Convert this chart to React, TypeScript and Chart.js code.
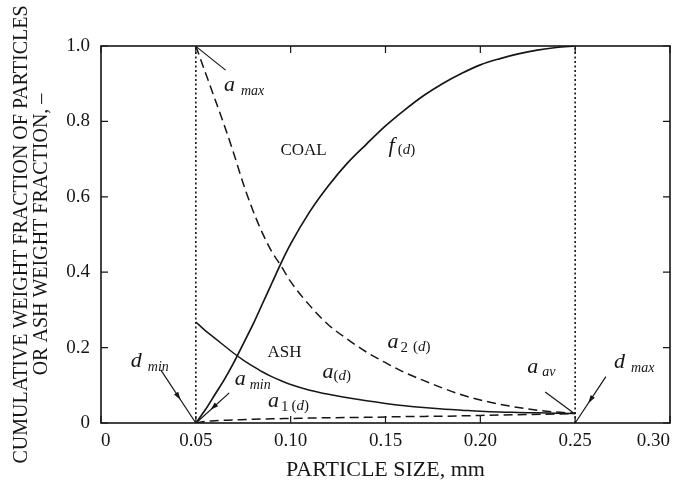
import React, { useEffect, useRef } from 'react';
import { Chart, registerables } from 'chart.js';
Chart.register(...registerables);

// ---------- data ----------
const xTicks = [0, 0.05, 0.1, 0.15, 0.2, 0.25, 0.3];
const xTickLabels = ['0', '0.05', '0.10', '0.15', '0.20', '0.25', '0.30'];
const yTicks = [0, 0.2, 0.4, 0.6, 0.8, 1.0];
const yTickLabels = ['0', '0.2', '0.4', '0.6', '0.8', '1.0'];

const dMin = 0.05;
const dMax = 0.25;

const sizeGrid = [0.05, 0.055, 0.06, 0.065, 0.07, 0.075, 0.08, 0.085, 0.09, 0.095, 0.1, 0.11, 0.12, 0.13, 0.14, 0.15, 0.16, 0.17, 0.18, 0.19, 0.2, 0.21, 0.22, 0.23, 0.24, 0.25];
// coal cumulative weight fraction f(d)
const coalF = [0, 0.035, 0.075, 0.115, 0.16, 0.21, 0.26, 0.315, 0.37, 0.425, 0.475, 0.56, 0.63, 0.69, 0.74, 0.788, 0.83, 0.868, 0.9, 0.927, 0.95, 0.966, 0.979, 0.989, 0.996, 1.0];
// ash weight fraction a(d)
const ashA = [0.268, 0.245, 0.225, 0.205, 0.185, 0.167, 0.151, 0.136, 0.123, 0.112, 0.102, 0.087, 0.076, 0.067, 0.059, 0.052, 0.046, 0.041, 0.037, 0.034, 0.031, 0.029, 0.028, 0.027, 0.026, 0.025];
// a2(d)
const ashA2 = [1.0, 0.93, 0.86, 0.79, 0.715, 0.635, 0.565, 0.505, 0.455, 0.416, 0.375, 0.312, 0.26, 0.222, 0.188, 0.16, 0.134, 0.113, 0.093, 0.075, 0.061, 0.05, 0.041, 0.034, 0.029, 0.026];
// a1(d)
const a1X = [0.05, 0.055, 0.06, 0.07, 0.08, 0.09, 0.1, 0.12, 0.14, 0.16, 0.18, 0.2, 0.22, 0.24, 0.25];
const ashA1 = [0, 0.004, 0.006, 0.008, 0.01, 0.011, 0.012, 0.014, 0.015, 0.017, 0.018, 0.02, 0.022, 0.024, 0.025];

// text annotations: [text, fontSize, italic, dy, gapBefore]
type Seg = [string, number, boolean, number, number];
const annotations: { x: number; y: number; align?: 'left' | 'center'; segs: Seg[] }[] = [
  { x: 0.0648, y: 0.881, segs: [['a', 22, true, 0, 0], ['max', 14, true, 4, 6]] },
  { x: 0.1068, y: 0.712, align: 'center', segs: [['COAL', 17, false, 0, 0]] },
  { x: 0.1516, y: 0.719, segs: [['f', 22, true, 0, 0], ['(', 15, false, 2, 3], ['d', 15, true, 2, 0], [')', 15, false, 2, 0]] },
  { x: 0.0967, y: 0.176, align: 'center', segs: [['ASH', 17, false, 0, 0]] },
  { x: 0.1168, y: 0.119, segs: [['a', 22, true, 0, 0], ['(', 15, false, 2, 0], ['d', 15, true, 2, 0], [')', 15, false, 2, 0]] },
  { x: 0.151, y: 0.199, segs: [['a', 22, true, 0, 0], ['2', 15, false, 4, 2], ['(', 15, false, 3, 5], ['d', 15, true, 3, 0], [')', 15, false, 3, 0]] },
  { x: 0.0881, y: 0.042, segs: [['a', 22, true, 0, 0], ['1', 15, false, 4, 2], ['(', 15, false, 3, 3], ['d', 15, true, 3, 0], [')', 15, false, 3, 0]] },
  { x: 0.0705, y: 0.101, segs: [['a', 22, true, 0, 0], ['min', 14, true, 4, 4]] },
  { x: 0.0157, y: 0.149, segs: [['d', 22, true, 0, 0], ['min', 14, true, 4, 6]] },
  { x: 0.2247, y: 0.133, segs: [['a', 22, true, 0, 0], ['av', 14, true, 3, 4]] },
  { x: 0.2705, y: 0.146, segs: [['d', 22, true, 0, 0], ['max', 14, true, 4, 6]] },
];

const leaders: { from: [number, number]; to: [number, number]; head: boolean }[] = [
  { from: [0.0657, 0.936], to: [0.0505, 0.997], head: false },
  { from: [0.2342, 0.082], to: [0.249, 0.027], head: false },
  { from: [0.0315, 0.141], to: [0.05, 0.0], head: true },
  { from: [0.0676, 0.08], to: [0.051, 0.004], head: true },
  { from: [0.2662, 0.123], to: [0.25, 0.0], head: true },
];

const INK = '#161616';
const SERIF = '"Liberation Serif", "DejaVu Serif", serif';

const decorPlugin = {
  id: 'decor',
  afterDatasetsDraw(chart: any) {
    const { ctx, chartArea: a, scales } = chart;
    const xs = scales.x;
    const ys = scales.y;
    ctx.save();
    ctx.strokeStyle = INK;
    ctx.fillStyle = INK;
    // frame
    ctx.lineWidth = 1.6;
    ctx.strokeRect(a.left, a.top, a.right - a.left, a.bottom - a.top);
    // inward ticks
    ctx.lineWidth = 1.2;
    const tl = 7;
    ctx.beginPath();
    xTicks.forEach((v) => {
      const px = xs.getPixelForValue(v);
      ctx.moveTo(px, a.bottom);
      ctx.lineTo(px, a.bottom - tl);
      ctx.moveTo(px, a.top);
      ctx.lineTo(px, a.top + tl);
    });
    yTicks.forEach((v) => {
      const py = ys.getPixelForValue(v);
      ctx.moveTo(a.left, py);
      ctx.lineTo(a.left + tl, py);
      ctx.moveTo(a.right, py);
      ctx.lineTo(a.right - tl, py);
    });
    ctx.stroke();
    // leaders
    ctx.lineWidth = 1.2;
    leaders.forEach((l) => {
      const x1 = xs.getPixelForValue(l.from[0]);
      const y1 = ys.getPixelForValue(l.from[1]);
      const x2 = xs.getPixelForValue(l.to[0]);
      const y2 = ys.getPixelForValue(l.to[1]);
      ctx.beginPath();
      ctx.moveTo(x1, y1);
      ctx.lineTo(x2, y2);
      ctx.stroke();
      if (l.head) {
        const ang = Math.atan2(y2 - y1, x2 - x1);
        const mx = x1 + (x2 - x1) * 0.5;
        const my = y1 + (y2 - y1) * 0.5;
        const len = 8;
        const w = 2.5;
        ctx.beginPath();
        ctx.moveTo(mx + Math.cos(ang) * len / 2, my + Math.sin(ang) * len / 2);
        ctx.lineTo(mx - Math.cos(ang) * len / 2 - Math.sin(ang) * w, my - Math.sin(ang) * len / 2 + Math.cos(ang) * w);
        ctx.lineTo(mx - Math.cos(ang) * len / 2 + Math.sin(ang) * w, my - Math.sin(ang) * len / 2 - Math.cos(ang) * w);
        ctx.closePath();
        ctx.fill();
      }
    });
    // text
    ctx.textBaseline = 'alphabetic';
    ctx.textAlign = 'left';
    annotations.forEach((an) => {
      let px = xs.getPixelForValue(an.x);
      const py = ys.getPixelForValue(an.y);
      const fontOf = (s: Seg) => `${s[2] ? 'italic ' : ''}${s[1]}px ${SERIF}`;
      if (an.align === 'center') {
        let w = 0;
        an.segs.forEach((s) => { ctx.font = fontOf(s); w += s[4] + ctx.measureText(s[0]).width; });
        px -= w / 2;
      }
      an.segs.forEach((s) => {
        ctx.font = fontOf(s);
        px += s[4];
        ctx.fillText(s[0], px, py + s[3]);
        px += ctx.measureText(s[0]).width;
      });
    });
    ctx.restore();
  },
};

export default function App() {
  const ref = useRef<HTMLCanvasElement | null>(null);
  useEffect(() => {
    document.body.style.margin = '0';
    const canvas = ref.current!;
    const pts = (xsArr: number[], ysArr: number[]) => xsArr.map((x, i) => ({ x, y: ysArr[i] }));
    const chart = new Chart(canvas, {
      type: 'line',
      data: {
        datasets: [
          { label: 'f(d)', data: pts(sizeGrid, coalF), borderColor: INK, borderWidth: 1.7, pointRadius: 0, cubicInterpolationMode: 'monotone', fill: false },
          { label: 'a(d)', data: pts(sizeGrid, ashA), borderColor: INK, borderWidth: 1.5, pointRadius: 0, cubicInterpolationMode: 'monotone', fill: false },
          { label: 'a2(d)', data: pts(sizeGrid, ashA2), borderColor: INK, borderWidth: 1.5, borderDash: [9, 5], pointRadius: 0, cubicInterpolationMode: 'monotone', fill: false },
          { label: 'a1(d)', data: pts(a1X, ashA1), borderColor: INK, borderWidth: 1.5, borderDash: [9, 5], pointRadius: 0, cubicInterpolationMode: 'monotone', fill: false },
          { label: 'dmin', data: [{ x: dMin, y: 0 }, { x: dMin, y: 1 }], borderColor: INK, borderWidth: 1.6, borderDash: [2, 2.5], pointRadius: 0, fill: false },
          { label: 'dmax', data: [{ x: dMax, y: 0 }, { x: dMax, y: 1 }], borderColor: INK, borderWidth: 1.6, borderDash: [2, 2.5], pointRadius: 0, fill: false },
        ],
      },
      options: {
        responsive: false,
        animation: false,
        devicePixelRatio: 1,
        layout: { padding: { top: 46, right: 7, left: 0, bottom: 0 } },
        plugins: { legend: { display: false }, tooltip: { enabled: false } },
        scales: {
          x: {
            type: 'linear',
            min: 0,
            max: 0.3,
            afterBuildTicks: (s: any) => { s.ticks = xTicks.map((v) => ({ value: v })); },
            afterFit: (s: any) => { s.height = 61; s.paddingLeft = 0; s.paddingRight = 0; },
            grid: { display: false, drawTicks: false },
            border: { display: false },
            ticks: {
              color: INK,
              padding: 7,
              maxRotation: 0,
              autoSkip: false,
              align: 'inner',
              font: { family: SERIF, size: 19 },
              callback: (_v: any, i: number) => xTickLabels[i],
            },
            title: { display: true, text: 'PARTICLE SIZE, mm', color: INK, font: { family: SERIF, size: 22 }, padding: { top: 0, bottom: 1 } },
          },
          y: {
            type: 'linear',
            min: 0,
            max: 1,
            afterBuildTicks: (s: any) => { s.ticks = yTicks.map((v) => ({ value: v })); },
            afterFit: (s: any) => { s.width = 101; },
            grid: { display: false, drawTicks: false },
            border: { display: false },
            ticks: {
              color: INK,
              padding: 11,
              autoSkip: false,
              font: { family: SERIF, size: 19 },
              callback: (_v: any, i: number) => yTickLabels[i],
            },
            title: {
              display: true,
              text: ['CUMULATIVE WEIGHT FRACTION OF PARTICLES', 'OR ASH WEIGHT FRACTION, \u2013'],
              color: INK,
              font: { family: SERIF, size: 20, lineHeight: 1.0 },
              padding: { top: 12, bottom: 0 },
            },
          },
        },
      },
      plugins: [decorPlugin],
    } as any);
    return () => chart.destroy();
  }, []);
  return (
    <div style={{ width: 677, height: 484 }}>
      <canvas ref={ref} width={677} height={484} style={{ display: 'block' }} />
    </div>
  );
}
